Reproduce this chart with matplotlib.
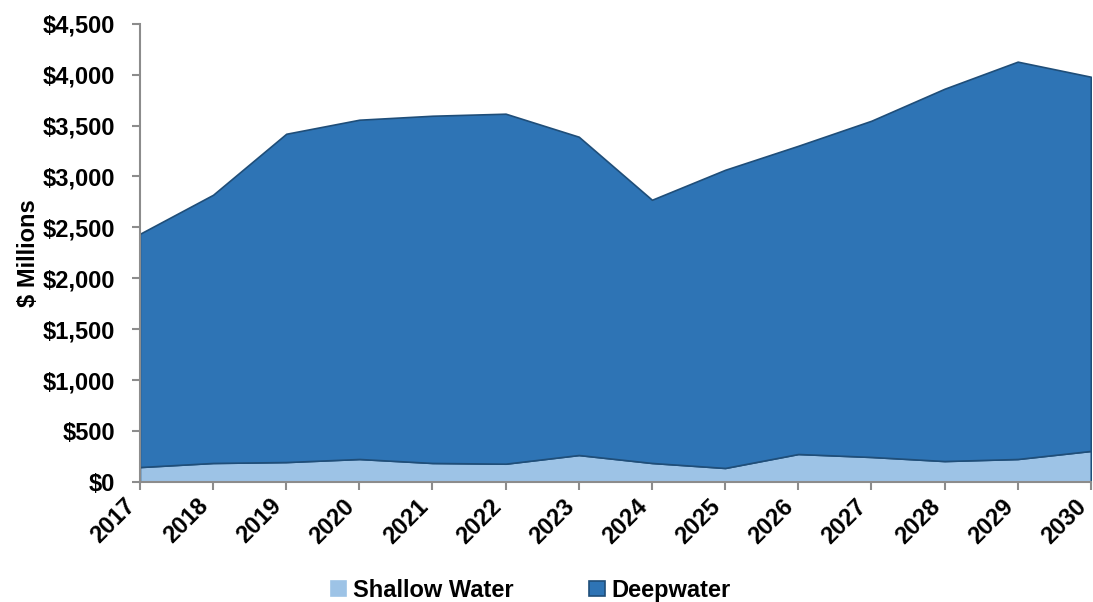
import numpy as np
import matplotlib.pyplot as plt
from matplotlib.ticker import FuncFormatter, MultipleLocator

plt.rcParams['font.family'] = ['Liberation Sans', 'DejaVu Sans']
plt.rcParams['font.weight'] = 'bold'

# spending by water depth, $ millions
years = [2017, 2018, 2019, 2020, 2021, 2022, 2023, 2024, 2025, 2026, 2027, 2028, 2029, 2030]
shallow = [147, 187, 196, 226, 187, 180, 265, 187, 138, 275, 246, 206, 226, 305]
total = [2437, 2820, 3419, 3557, 3596, 3616, 3390, 2771, 3065, 3301, 3547, 3861, 4127, 3979]
deep = [t - s for t, s in zip(total, shallow)]

shallow_color = '#9DC3E6'
deep_color = '#2E74B5'
edge_color = '#1F4E79'
fs = 17

fig = plt.figure(figsize=(10.93, 6.02), dpi=100)
ax = fig.add_axes([0.128, 0.1993, 0.870, 0.7614])

ax.stackplot(years, shallow, deep, colors=[shallow_color, deep_color],
             labels=['Shallow Water', 'Deepwater'],
             edgecolor=edge_color, linewidth=1.2)

ax.set_xlim(2017, 2030)
ax.set_ylim(0, 4500)
ax.yaxis.set_major_locator(MultipleLocator(500))
ax.yaxis.set_major_formatter(FuncFormatter(lambda v, p: f"${v:,.0f}"))
ax.set_xticks(years)
ax.set_xticklabels([str(y) for y in years], rotation=45, ha='right',
                   va='top', fontweight='bold')
for lbl in ax.get_yticklabels():
    lbl.set_fontweight('bold')

for side in ['top', 'right']:
    ax.spines[side].set_visible(False)
for side in ['left', 'bottom']:
    ax.spines[side].set_color('#8C8C8C')
    ax.spines[side].set_linewidth(1.5)
ax.tick_params(axis='both', colors='#8C8C8C', length=6, width=1.5,
               labelcolor='black', labelsize=fs)
ax.tick_params(axis='y', pad=12)
ax.tick_params(axis='x', pad=3)

ax.set_ylabel('$ Millions', fontsize=fs, fontweight='bold', labelpad=2)

leg = ax.legend(loc='center', bbox_to_anchor=(0.411, -0.236), ncol=2,
                frameon=False, fontsize=fs, handlelength=0.65, handleheight=0.65,
                columnspacing=3.2, handletextpad=0.3)
for t in leg.get_texts():
    t.set_fontweight('bold')
# light swatch without the dark outline
leg.legend_handles[0].set_edgecolor(shallow_color)

fig.savefig('out.png', dpi=100)
